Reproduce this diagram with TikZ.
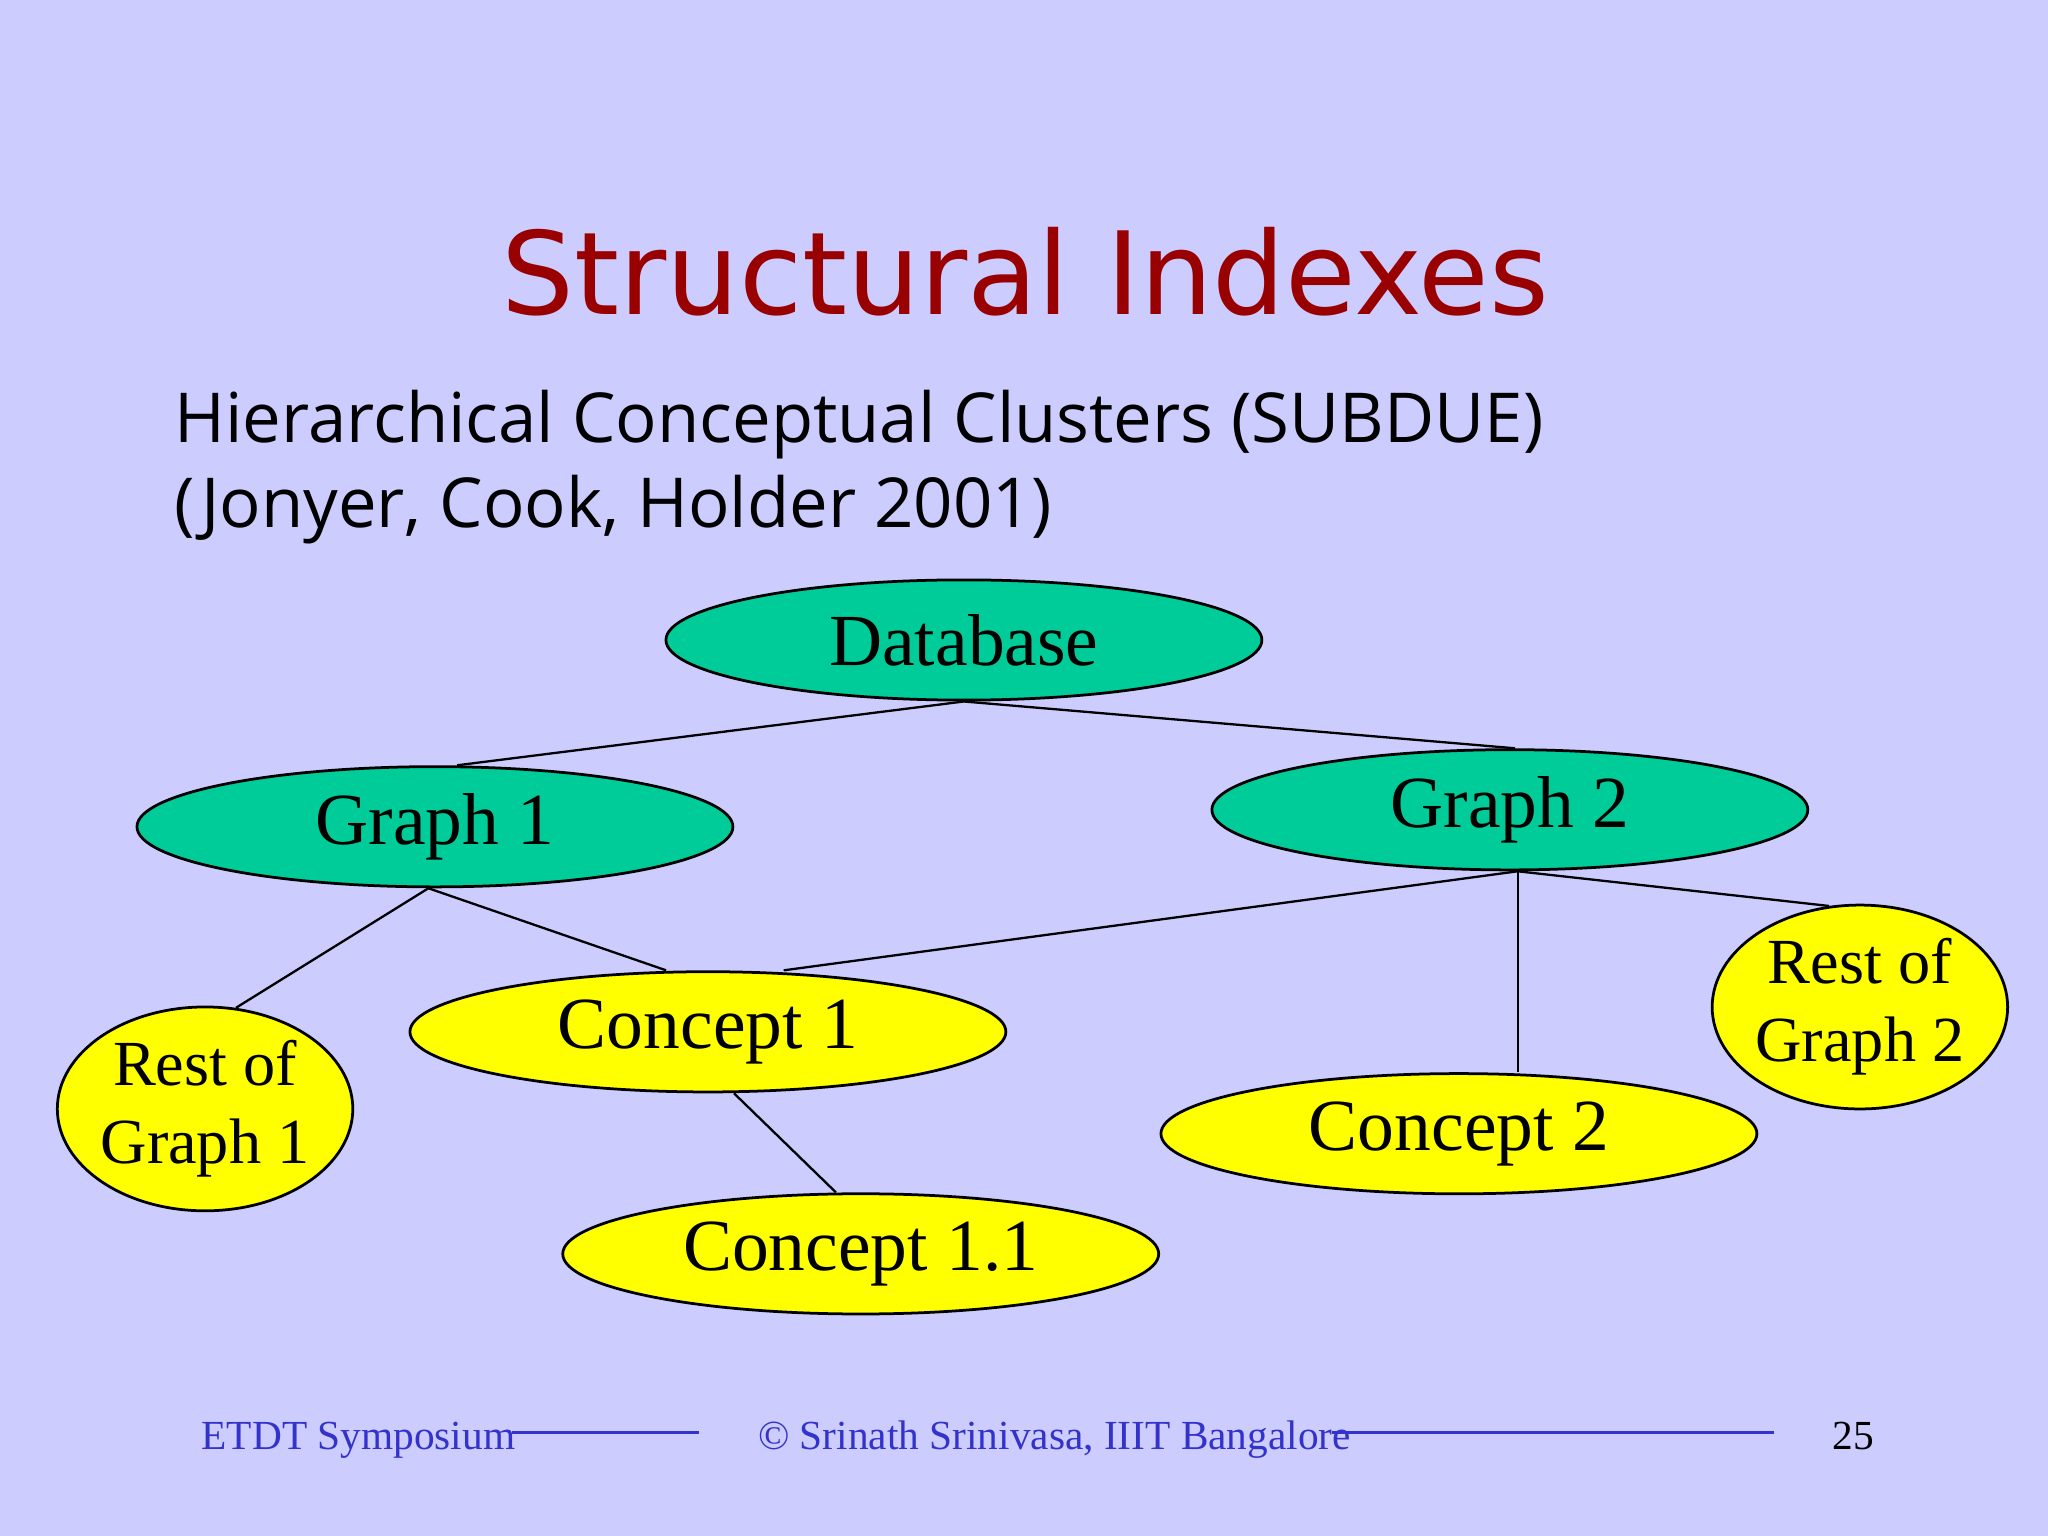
\documentclass[tikz,border=0pt]{standalone}
\usepackage{fontspec}
\setmainfont{Liberation Serif}
\newfontfamily\titlefont{DejaVu Sans}
\newfontfamily\subfont{Open Sans}
\usetikzlibrary{shapes.geometric,calc}
\definecolor{bgc}{HTML}{CCCCFF}
\definecolor{grn}{HTML}{00CC99}
\definecolor{ylw}{HTML}{FFFF00}
\definecolor{ttl}{HTML}{990000}
\definecolor{ftc}{HTML}{3333CC}
\tikzset{
 ell/.style={ellipse,draw=black,line width=0.6pt,minimum width=4.56cm,minimum height=0.92cm,inner sep=0pt,font=\fontsize{16}{18}\selectfont},
 gnode/.style={ell,fill=grn},
 ynode/.style={ell,fill=ylw},
 rnode/.style={ellipse,draw=black,line width=0.6pt,fill=ylw,minimum width=1.82cm,minimum height=1.56cm,inner sep=0pt,align=center,font=\fontsize{14}{17}\selectfont},
 edge/.style={line width=0.5pt},
 foot/.style={text=ftc,font=\fontsize{9}{10}\selectfont}
}
\begin{document}
\begin{tikzpicture}[x=0.01cm,y=-0.01cm]
\fill[bgc] (0,0) rectangle (1568,1176);
\useasboundingbox (0,0) rectangle (1568,1176);
\node[text=ttl,font=\titlefont\fontsize{25}{28}\selectfont] (title) at (785,208) {Structural Indexes};
\node[anchor=north west,align=left,font=\subfont\fontsize{15}{18.5}\selectfont,inner sep=0pt] (sub) at (133,298) {Hierarchical Conceptual Clusters (SUBDUE)\\(Jonyer, Cook, Holder 2001)};
\node[gnode] (db) at (738,490) {Database};
\node[gnode] (g1) at (333,633) {Graph 1};
\node[gnode] (g2) at (1156,620) {Graph 2};
\node[ynode] (c1) at (542,790) {Concept 1};
\node[ynode] (c2) at (1117,868) {Concept 2};
\node[ynode] (c11) at (659,960) {Concept 1.1};
\node[rnode] (r1) at (157,849) {Rest of\\Graph 1};
\node[rnode] (r2) at (1424,771) {Rest of\\Graph 2};
\draw[edge] (db.south) -- ($(g1.north)+(17,0)$);
\draw[edge] (db.south) -- ($(g2.north)+(4,0)$);
\draw[edge] ($(g1.south)+(-5,0)$) -- (r1.73);
\draw[edge] ($(g1.south)+(-5,0)$) -- ($(c1.north)+(-32,0)$);
\draw[edge] ($(g2.south)+(6,0)$) -- ($(c1.north)+(58,0)$);
\draw[edge] ($(g2.south)+(6,0)$) -- ($(c2.north)+(45,0)$);
\draw[edge] ($(g2.south)+(6,0)$) -- (r2.107);
\draw[edge] ($(c1.south)+(20,0)$) -- ($(c11.north)+(-19,0)$);
\node[foot,anchor=base west] (f1) at (142,1110) {ETDT Symposium};
\node[foot,anchor=base west] (f2) at (568,1110) {\textcopyright\ Srinath Srinivasa, IIIT Bangalore};
\node[text=black,font=\fontsize{9}{10}\selectfont,anchor=base] (f3) at (1419,1110) {25};
\coordinate (l1a) at (392,1097); \coordinate (l1b) at (535,1097);
\coordinate (l2a) at (1020,1097); \coordinate (l2b) at (1358,1097);
\draw[ftc,line width=0.6pt] (l1a) -- (l1b);
\draw[ftc,line width=0.6pt] (l2a) -- (l2b);
\end{tikzpicture}
\end{document}
